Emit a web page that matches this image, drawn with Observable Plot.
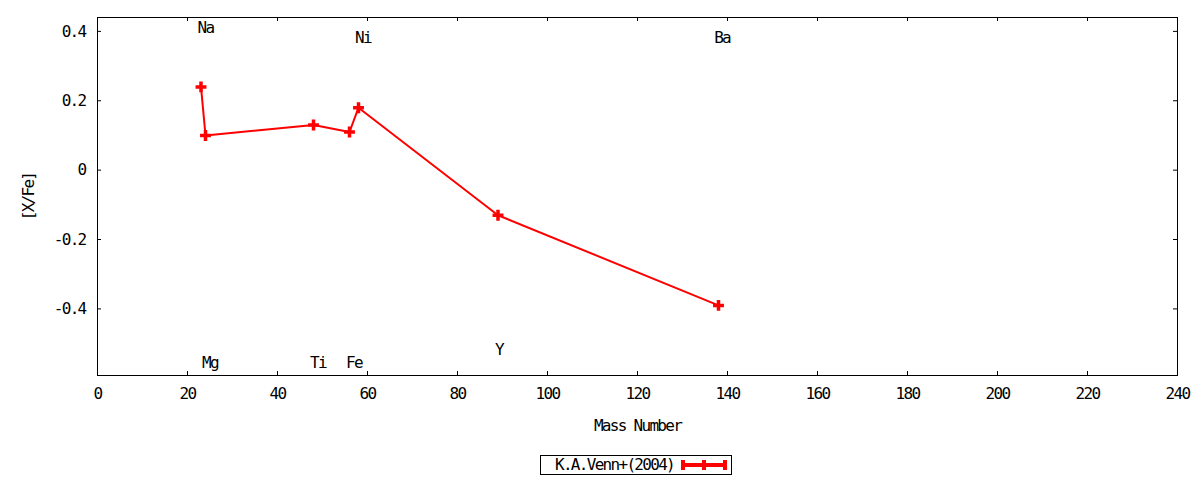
<!DOCTYPE html>
<html>
<head>
<meta charset="utf-8">
<script src="https://cdn.jsdelivr.net/npm/d3@7"></script>
<script src="https://cdn.jsdelivr.net/npm/@observablehq/plot@0.6"></script>
<style>
  html, body { margin: 0; padding: 0; background: #fff; }
  #wrap { width: 1200px; font-family: "DejaVu Sans Mono", monospace; font-size: 16px; letter-spacing: -1.7px; color: #000; }
  #legend { margin-left: 540px; margin-top: 5px; width: 190px; height: 18px; border: 1px solid #000;
    display: flex; align-items: center; box-sizing: content-box; }
  #legend span { margin-left: 14px; line-height: 18px; }
  #legend svg { margin-left: 7px; }
</style>
</head>
<body>
<div id="wrap"></div>
<script>
// Data: element abundances [X/Fe] vs mass number (K.A.Venn+ 2004)
const elements = ["Na", "Mg", "Ti", "Fe", "Ni", "Y", "Ba"];
const massNumber = [23, 24, 48, 56, 58, 89, 138];
const xFe = [0.24, 0.10, 0.13, 0.11, 0.18, -0.13, -0.39];

// Element label positions (data coordinates)
const labelX = [24, 25, 49, 57, 59, 89.2, 138.8];
const labelY = [0.41, -0.557, -0.557, -0.557, 0.381, -0.517, 0.381];

// Axis ticks
const xTicks = [0, 20, 40, 60, 80, 100, 120, 140, 160, 180, 200, 220, 240];
const xTickLabels = ["0", "20", "40", "60", "80", "100", "120", "140", "160", "180", "200", "220", "240"];
const yTicks = [-0.4, -0.2, 0, 0.2, 0.4];
const yTickLabels = ["-0.4", "-0.2", "0", "0.2", "0.4"];

const seriesName = "K.A.Venn+(2004)";
const xLabel = "Mass Number";
const yLabel = "[X/Fe]";

const data = elements.map((e, i) => ({ element: e, mass: massNumber[i], value: xFe[i] }));
const labels = elements.map((e, i) => ({ text: e, x: labelX[i], y: labelY[i] }));

const W = 1200, H = 450, mL = 97, mR = 23, mT = 17, mB = 75;
const plotW = W - mL - mR, plotH = H - mT - mB;
const tick = 4;
const fs = 16;

const chart = Plot.plot({
  width: W, height: H,
  marginLeft: mL, marginRight: mR, marginTop: mT, marginBottom: mB,
  style: { fontFamily: "DejaVu Sans Mono", fontSize: fs + "px", letterSpacing: "-1.7px", color: "#000", background: "#fff" },
  x: { domain: [0, 240] },
  y: { domain: [-0.592, 0.44] },
  marks: [
    Plot.axisX({ ticks: xTicks, tickSize: 0, tickPadding: 12, fontSize: fs, fill: "#000",
      tickFormat: d => xTickLabels[xTicks.indexOf(d)],
      label: xLabel, labelAnchor: "center", labelOffset: 55, labelArrow: "none" }),
    Plot.axisY({ ticks: yTicks, tickSize: 0, tickPadding: 12, fontSize: fs, fill: "#000",
      tickFormat: d => yTickLabels[yTicks.indexOf(d)],
      label: yLabel, labelAnchor: "center", labelOffset: 75, labelArrow: "none" }),
    // inward ticks on all four sides (gnuplot style, mirrored)
    Plot.tickX(xTicks, { x: d => d, insetTop: plotH - tick, stroke: "#000", strokeWidth: 1 }),
    Plot.tickX(xTicks, { x: d => d, insetBottom: plotH - tick, stroke: "#000", strokeWidth: 1 }),
    Plot.tickY(yTicks, { y: d => d, insetRight: plotW - tick, stroke: "#000", strokeWidth: 1 }),
    Plot.tickY(yTicks, { y: d => d, insetLeft: plotW - tick, stroke: "#000", strokeWidth: 1 }),
    Plot.frame({ stroke: "#000", strokeWidth: 1 }),
    Plot.line(data, { x: "mass", y: "value", stroke: "red", strokeWidth: 2 }),
    Plot.dot(data, { x: "mass", y: "value", symbol: "plus", r: 3.6, stroke: "red", strokeWidth: 3.5 }),
    Plot.text(labels, { x: "x", y: "y", text: "text", fill: "#000", fontSize: fs })
  ]
});

const wrap = document.getElementById("wrap");
wrap.appendChild(chart);

// Legend below the chart
const legend = document.createElement("div");
legend.id = "legend";
const label = document.createElement("span");
label.textContent = seriesName;
legend.appendChild(label);
const ns = "http://www.w3.org/2000/svg";
const sample = document.createElementNS(ns, "svg");
sample.setAttribute("width", "46");
sample.setAttribute("height", "14");
const ln = document.createElementNS(ns, "line");
ln.setAttribute("x1", "2"); ln.setAttribute("x2", "44");
ln.setAttribute("y1", "7"); ln.setAttribute("y2", "7");
ln.setAttribute("stroke", "red"); ln.setAttribute("stroke-width", "4");
sample.appendChild(ln);
[2, 23, 44].forEach(cx => {
  const v = document.createElementNS(ns, "line");
  v.setAttribute("x1", cx); v.setAttribute("x2", cx);
  v.setAttribute("y1", "2"); v.setAttribute("y2", "12");
  v.setAttribute("stroke", "red"); v.setAttribute("stroke-width", "4");
  sample.appendChild(v);
});
legend.appendChild(sample);
wrap.appendChild(legend);
</script>
</body>
</html>
